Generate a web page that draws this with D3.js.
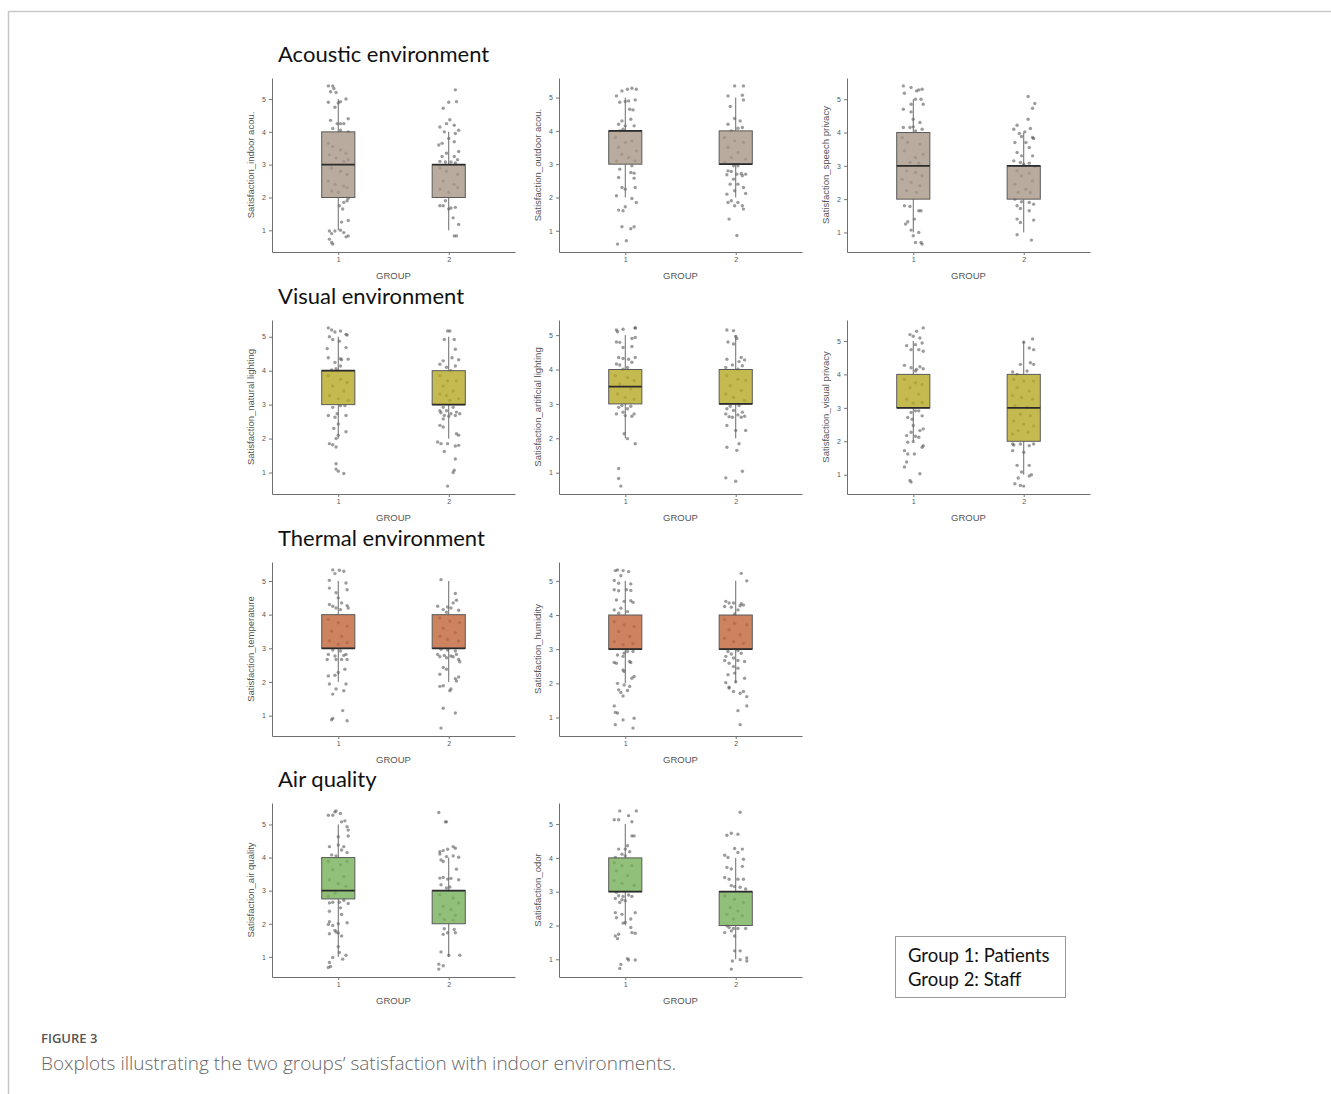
<!DOCTYPE html>
<html>
<head>
<meta charset="utf-8">
<script src="https://cdn.jsdelivr.net/npm/d3@7"></script>
<style>
  body { margin: 0; background: #fff; }
  svg { display: block; }
</style>
</head>
<body>
<svg id="chart" width="1331" height="1094"></svg>
<script>
// groups on the x axis
const groups = ['1', '2'];
const sectionTitles = ['Acoustic environment', 'Visual environment', 'Thermal environment', 'Air quality'];
const yTicks = [1, 2, 3, 4, 5];
const legendLines = ['Group 1: Patients', 'Group 2: Staff'];

// box stats per variable: [group1, group2], each [lowWhisker, q1, median, q3, highWhisker]
const statsIndoorAcou = [[1, 2, 3, 4, 5], [1, 2, 3, 3, 4]];
const statsOutdoorAcou = [[2, 3, 4, 4, 5], [2, 3, 3, 4, 5]];
const statsSpeechPrivacy = [[1, 2, 3, 4, 5], [1, 2, 3, 3, 4]];
const statsNaturalLighting = [[2, 3, 4, 4, 5], [2, 3, 3, 4, 5]];
const statsArtificialLighting = [[2, 3, 3.5, 4, 5], [2, 3, 3, 4, 5]];
const statsVisualPrivacy = [[2, 3, 3, 4, 5], [1, 2, 3, 4, 5]];
const statsTemperature = [[2, 3, 3, 4, 5], [2, 3, 3, 4, 5]];
const statsHumidity = [[2, 3, 3, 4, 5], [2, 3, 3, 4, 5]];
const statsAirQuality = [[1, 2.75, 3, 4, 5], [1, 2, 3, 3, 4]];
const statsOdor = [[2, 3, 3, 4, 5], [1, 2, 3, 3, 4]];

// jittered responses: [x jitter (group units), value]
const indoorAcou1 = [[-.09,5.4],[-.05,5.4],[-.04,5.32],[-.07,5.22],[-.02,5.2],[-.09,4.9],[.02,4.92],[.07,5.0],[-.03,4.75],[0,4.88],[-.07,4.35],[.09,4.4],[.02,4.25],[-.01,4.25],[.05,4.25],[-.05,4.1],[.02,4.05],[.09,4.0],[-.09,3.65],[-.05,3.55],[.02,3.45],[.07,3.35],[-.08,3.3],[-.02,3.2],[.05,3.1],[.09,3.15],[-.06,2.9],[.02,2.8],[.08,2.7],[-.09,2.5],[-.03,2.4],[.05,2.35],[-.06,2.2],[0,2.15],[.08,2.3],[.08,1.9],[.05,1.85],[.01,1.75],[.04,1.65],[.09,1.98],[.03,1.25],[.09,1.3],[-.08,.98],[-.06,.9],[-.03,.98],[.02,1.0],[.05,.93],[.09,.83],[-.08,.73],[-.06,.63],[-.05,.58],[.07,.8]];
const indoorAcou2 = [[.06,5.28],[0,4.9],[.07,4.92],[-.05,4.72],[.01,4.37],[-.02,4.25],[.05,4.2],[-.08,4.15],[.09,4.05],[-.04,4.0],[.06,3.95],[0,3.8],[-.06,3.65],[.05,3.7],[-.09,3.6],[.09,3.4],[-.02,3.35],[-.06,3.25],[.05,3.25],[.08,3.15],[-.08,3.1],[.02,3.08],[-.03,3.08],[.06,3.05],[-.08,2.9],[-.02,2.8],[.08,2.7],[-.05,2.5],[.05,2.4],[-.08,2.25],[0,2.15],[.08,2.3],[-.03,1.9],[-.08,1.75],[-.05,1.75],[.02,1.68],[.06,1.7],[0,1.65],[.04,1.38],[.09,1.18],[.05,.83],[.07,.83]];
const outdoorAcou1 = [[-.08,5.05],[-.03,5.2],[.02,5.25],[.06,5.28],[.1,5.25],[-.05,4.86],[0,4.88],[.03,4.9],[.09,4.93],[.04,4.65],[.07,4.63],[-.03,4.3],[.05,4.35],[-.06,4.2],[0,4.15],[.08,4.15],[-.02,4.05],[-.05,4.0],[-.09,3.8],[0,3.65],[.06,3.7],[-.06,3.5],[.1,3.4],[-.03,3.3],[.03,3.2],[-.08,3.1],[.09,3.1],[.06,2.95],[-.05,2.85],[.05,2.75],[.08,2.73],[-.06,2.6],[.08,2.58],[-.03,2.3],[.09,2.3],[0,2.25],[-.08,2.05],[.06,1.97],[.1,1.85],[0,1.72],[-.06,1.62],[-.02,1.6],[-.03,1.12],[.05,1.06],[.08,1.12],[.01,.7],[-.07,.6]];
const outdoorAcou2 = [[-.01,5.35],[.07,5.35],[-.07,5.05],[.06,5.07],[.07,4.93],[-.05,4.73],[-.01,4.37],[.04,4.3],[-.07,4.2],[.02,4.08],[.06,4.1],[-.04,4.0],[-.1,3.8],[-.01,3.7],[.07,3.65],[-.07,3.5],[.02,3.35],[-.04,3.2],[.09,3.15],[-.1,3.05],[-.02,2.95],[.02,2.95],[-.07,2.8],[-.04,2.78],[.05,2.72],[.09,2.7],[-.08,2.68],[.01,2.7],[.06,2.65],[-.02,2.55],[.02,2.4],[-.05,2.4],[.07,2.3],[-.01,2.2],[-.08,2.1],[.09,2.12],[-.04,1.9],[.02,1.85],[-.07,1.85],[.06,1.75],[-.01,1.75],[.07,1.65],[-.06,1.35],[.01,.86]];
const speechPrivacy1 = [[-.09,5.4],[-.02,5.35],[.03,5.25],[.05,5.28],[.08,5.3],[-.08,5.18],[.02,5.0],[.07,5.0],[-.09,4.7],[-.02,4.85],[.09,4.85],[-.02,4.62],[0,4.4],[.06,4.3],[-.09,4.15],[-.03,4.15],[0,4.17],[.08,4.1],[.02,4.05],[-.1,3.85],[-.05,3.7],[.06,3.65],[-.08,3.45],[.09,3.35],[.02,3.25],[-.03,3.1],[.05,3.08],[-.06,2.85],[.02,2.8],[.08,2.7],[-.1,2.6],[-.02,2.5],[.06,2.4],[-.06,2.25],[.03,2.2],[-.08,1.8],[-.03,1.78],[.05,1.65],[.07,1.65],[.01,1.4],[-.05,1.32],[-.07,1.25],[-.02,1.07],[.05,1.0],[0,.9],[.02,.7],[.07,.7],[.08,.65]];
const speechPrivacy2 = [[.04,5.08],[.1,4.87],[.08,4.73],[.04,4.4],[-.06,4.22],[-.09,4.1],[.06,4.12],[.01,4.02],[-.04,3.97],[.08,3.85],[-.02,3.88],[.09,3.82],[-.08,3.7],[.02,3.7],[.05,3.55],[-.06,3.4],[-.02,3.3],[.08,3.3],[-.09,3.15],[-.03,3.1],[.05,3.08],[0,3.05],[.1,2.98],[-.06,2.85],[.05,2.78],[-.02,2.7],[.08,2.55],[-.08,2.45],[.02,2.3],[-.05,2.2],[.06,2.2],[-.08,2.0],[-.02,1.92],[.05,1.9],[-.06,1.8],[-.03,1.72],[.09,1.85],[.05,1.65],[-.06,1.4],[-.03,1.3],[.09,1.37],[-.06,.93],[.07,.77]];
const naturalLighting1 = [[-.09,5.26],[-.06,5.2],[.02,5.17],[-.03,5.14],[.07,5.07],[.08,5.05],[-.08,5.0],[-.05,4.92],[.01,4.87],[-.1,4.65],[.07,4.68],[-.09,4.38],[.02,4.35],[.03,4.32],[.09,4.34],[-.03,4.24],[.02,4.14],[-.02,4.06],[-.06,4.02],[-.09,3.85],[.02,3.75],[.08,3.65],[-.05,3.55],[.05,3.4],[-.08,3.26],[0,3.17],[.09,3.12],[.02,2.97],[.06,2.97],[-.05,2.92],[-.01,2.73],[-.03,2.63],[.07,2.68],[-.09,2.68],[0,2.43],[-.04,2.3],[.07,2.2],[0,2.1],[-.02,2.0],[-.08,1.85],[-.05,1.82],[-.02,1.75],[-.02,1.26],[-.02,1.1],[0,1.04],[.05,.97]];
const naturalLighting2 = [[-.01,5.17],[.01,5.17],[-.04,4.92],[.05,4.92],[.06,4.63],[-.05,4.29],[.09,4.32],[.03,4.38],[-.08,4.19],[-.02,4.1],[.06,4.14],[.02,4.0],[-.08,3.85],[-.01,3.7],[.07,3.7],[-.05,3.55],[.04,3.4],[-.08,3.31],[-.02,3.26],[.09,3.17],[.01,3.12],[-.05,2.92],[.04,2.92],[-.08,2.82],[-.02,2.82],[.07,2.78],[-.07,2.76],[.02,2.73],[-.04,2.68],[0,2.66],[.06,2.68],[.1,2.73],[-.05,2.58],[-.08,2.39],[-.05,2.34],[.09,2.1],[.07,2.14],[-.1,1.9],[-.07,1.85],[-.01,1.85],[.09,1.8],[.06,1.78],[-.04,1.62],[.06,1.4],[.05,1.07],[.04,1.0],[-.01,.6]];
const artificialLighting1 = [[-.08,5.15],[-.07,5.1],[-.02,5.17],[.09,5.21],[.09,5.21],[.06,4.9],[.09,4.93],[-.08,4.8],[-.05,4.79],[-.02,4.64],[.06,4.67],[-.06,4.35],[-.02,4.32],[.09,4.35],[.03,4.3],[-.08,4.16],[-.05,4.13],[.06,4.21],[.02,4.06],[-.02,4.01],[-.09,3.82],[.02,3.77],[.08,3.68],[-.05,3.58],[.05,3.43],[-.07,3.29],[0,3.19],[.08,3.14],[-.03,2.95],[.05,2.93],[-.06,2.9],[.02,2.86],[-.08,2.71],[0,2.66],[.06,2.64],[-.02,2.76],[.08,2.71],[-.01,2.13],[.02,1.99],[.09,1.84],[-.06,1.12],[-.06,.83],[-.04,.61]];
const artificialLighting2 = [[-.08,5.15],[-.02,5.13],[0,4.96],[.01,4.9],[-.07,4.8],[-.02,4.74],[-.08,4.3],[.05,4.35],[.08,4.28],[.03,4.23],[-.03,4.13],[.06,4.11],[-.09,4.06],[.02,4.01],[-.08,3.82],[.02,3.72],[.09,3.68],[-.05,3.53],[.05,3.39],[-.09,3.29],[-.02,3.19],[.08,3.1],[-.05,2.93],[.03,2.95],[-.08,2.86],[-.02,2.81],[.06,2.76],[-.09,2.71],[.02,2.68],[.08,2.64],[-.06,2.63],[-.03,2.61],[.05,2.61],[-.08,2.37],[0,2.23],[.09,2.23],[.03,1.84],[-.08,1.74],[.01,1.65],[.06,1.04],[-.09,.85],[0,.75]];
const visualPrivacy1 = [[.09,5.39],[.03,5.29],[-.03,5.19],[0,5.14],[.06,5.09],[-.06,4.86],[.02,4.89],[.08,4.94],[-.02,4.74],[.05,4.74],[.09,4.69],[-.08,4.27],[-.02,4.2],[.03,4.15],[.06,4.23],[.02,4.1],[.09,4.17],[-.08,3.85],[.02,3.75],[.08,3.7],[-.03,3.6],[.05,3.41],[-.06,3.26],[0,3.14],[.08,3.16],[.02,2.91],[.05,2.91],[-.02,2.86],[-.05,2.71],[-.01,2.66],[.08,2.76],[0,2.47],[.09,2.37],[.06,2.32],[-.02,2.27],[-.06,2.17],[.02,2.15],[.05,2.12],[-.05,1.97],[0,1.99],[.09,1.87],[.08,1.82],[-.08,1.72],[-.05,1.62],[.01,1.62],[-.06,1.38],[-.08,1.23],[.06,1.03],[-.03,.83],[-.02,.78]];
const visualPrivacy2 = [[.08,5.06],[0,4.96],[.05,4.79],[.09,4.74],[-.03,4.3],[.06,4.35],[.09,4.3],[-.1,4.07],[.03,4.1],[-.06,4.0],[-.09,3.85],[0,3.8],[.09,3.8],[-.06,3.6],[.05,3.5],[-.1,3.36],[-.02,3.31],[.08,3.26],[-.08,3.06],[.03,3.01],[-.03,2.81],[.06,2.76],[-.09,2.61],[0,2.51],[.09,2.46],[-.05,2.32],[-.1,2.22],[.04,2.27],[-.1,1.92],[-.09,1.89],[-.03,1.92],[.05,1.87],[.09,1.92],[-.1,1.72],[0,1.67],[-.06,1.28],[.05,1.28],[-.02,1.08],[-.05,.9],[.05,.96],[.07,1.0],[-.08,.73],[-.03,.68],[0,.66]];
const temperature1 = [[-.05,5.33],[.01,5.32],[.05,5.29],[-.03,5.22],[-.08,5.02],[.07,4.94],[-.08,4.79],[-.02,4.65],[.08,4.74],[0,4.5],[-.08,4.3],[.03,4.35],[-.05,4.25],[.08,4.27],[-.02,4.2],[.09,4.2],[.02,4.15],[-.09,3.86],[0,3.76],[.08,3.66],[-.06,3.51],[.03,3.36],[-.08,3.22],[0,3.12],[.08,3.17],[-.05,2.95],[.02,2.92],[-.09,2.82],[-.03,2.77],[.05,2.79],[.07,2.82],[-.1,2.67],[-.02,2.67],[.03,2.67],[.08,2.67],[.06,2.38],[-.09,2.18],[-.03,2.2],[0,2.28],[-.08,1.94],[.07,1.94],[-.02,1.79],[.05,1.74],[-.05,1.64],[.04,1.15],[-.06,.88],[-.05,.92],[.08,.85]];
const temperature2 = [[-.07,5.04],[.06,4.63],[.04,4.35],[.07,4.43],[-.1,4.25],[-.01,4.23],[.02,4.2],[-.05,4.15],[.09,4.13],[-.02,4.07],[-.08,3.9],[.01,3.81],[.1,3.76],[-.05,3.6],[.06,3.46],[-.08,3.36],[-.01,3.27],[.09,3.22],[-.07,2.97],[-.01,2.95],[.06,2.92],[-.1,2.82],[-.04,2.79],[.02,2.77],[.07,2.82],[-.08,2.75],[-.02,2.72],[.04,2.75],[.09,2.67],[.1,2.6],[-.05,2.43],[-.02,2.38],[-.08,2.23],[.09,2.15],[.06,2.1],[.07,2.03],[-.05,1.89],[-.08,1.87],[.02,1.79],[.01,1.74],[-.05,1.22],[.06,1.08],[-.07,.63]];
const humidity1 = [[-.09,5.3],[-.07,5.32],[-.02,5.3],[.03,5.27],[-.04,5.15],[-.1,5.01],[-.06,4.93],[.05,4.91],[-.1,4.74],[-.06,4.71],[.01,4.74],[.05,4.72],[-.08,4.44],[-.01,4.4],[.05,4.42],[.07,4.37],[-.04,4.2],[-.1,4.15],[.02,4.1],[-.06,4.05],[-.1,3.81],[-.01,3.71],[.08,3.66],[-.06,3.52],[.04,3.37],[-.1,3.22],[-.02,3.13],[.07,3.16],[.02,2.93],[.07,2.93],[-.01,2.88],[-.07,2.83],[-.02,2.79],[-.1,2.61],[-.08,2.59],[.04,2.64],[.05,2.61],[-.02,2.39],[-.01,2.35],[.08,2.2],[.06,2.15],[-.07,2.0],[-.01,1.95],[.04,1.91],[-.06,1.81],[-.04,1.73],[.02,1.79],[-.02,1.63],[-.1,1.34],[-.09,1.15],[-.07,1.13],[-.02,.93],[-.09,.79],[.08,.98],[.07,.69]];
const humidity2 = [[.05,5.22],[.1,5.0],[-.09,4.4],[-.06,4.35],[-.02,4.35],[.05,4.33],[-.1,4.25],[.04,4.27],[.07,4.29],[-.04,4.23],[.02,4.15],[-.01,4.03],[-.1,3.86],[-.01,3.76],[.1,3.71],[-.06,3.57],[.04,3.42],[-.1,3.32],[-.02,3.22],[.07,3.17],[-.07,2.93],[.02,2.96],[-.04,2.86],[.05,2.88],[-.09,2.79],[-.02,2.74],[-.1,2.67],[.02,2.67],[.08,2.64],[-.06,2.59],[-.02,2.49],[.02,2.44],[-.01,2.3],[-.07,2.25],[.08,2.15],[0,2.05],[-.09,2.02],[-.06,1.89],[-.06,1.86],[-.02,1.76],[.04,1.71],[.07,1.76],[.1,1.61],[.1,1.34],[.02,1.2],[.04,.79]];
const airQuality1 = [[-.09,5.28],[-.03,5.38],[.02,5.33],[-.02,5.41],[-.05,5.28],[.03,5.08],[.06,5.11],[.08,4.93],[.09,4.83],[0,4.63],[.09,4.65],[-.08,4.33],[0,4.38],[.05,4.33],[.03,4.23],[.08,4.15],[-.06,4.08],[-.02,4.05],[-.09,3.88],[.02,3.78],[.08,3.88],[-.05,3.63],[.05,3.43],[-.08,3.33],[0,3.21],[.07,3.13],[-.03,2.93],[-.09,2.83],[-.08,2.63],[-.05,2.65],[.01,2.65],[.05,2.71],[.09,2.61],[.02,2.48],[-.08,2.38],[.03,2.28],[-.09,1.98],[-.08,2.06],[0,2.0],[.08,2.03],[-.05,1.95],[-.03,1.8],[-.02,1.75],[0,1.72],[-.08,1.7],[.03,1.63],[0,1.31],[.01,1.13],[.07,1.05],[-.05,.98],[.04,.93],[-.08,.83],[-.09,.68],[-.07,.71]];
const airQuality2 = [[-.09,5.36],[-.03,5.08],[-.02,5.08],[-.08,4.18],[-.05,4.21],[-.01,4.25],[.04,4.33],[.06,4.28],[-.08,4.11],[-.02,4.03],[.04,4.05],[.09,4.01],[-.07,3.93],[-.05,3.88],[.07,3.65],[-.08,3.38],[-.05,3.4],[-.01,3.35],[.02,3.37],[.09,3.33],[-.07,3.18],[.01,3.11],[-.02,3.08],[-.08,2.88],[.04,2.78],[.09,2.63],[-.05,2.53],[.02,2.43],[-.08,2.28],[.06,2.25],[-.04,2.13],[.04,2.11],[-.04,1.85],[.05,1.83],[-.05,1.68],[-.01,1.73],[.06,1.73],[-.07,1.15],[0,1.05],[.1,1.05],[-.09,.78],[-.05,.73],[-.09,.63]];
const odor1 = [[-.05,5.39],[.1,5.39],[-.1,5.13],[-.06,5.13],[.03,5.25],[.06,5.07],[.06,4.65],[.08,4.65],[.02,4.36],[0,4.26],[.04,4.18],[-.06,4.26],[-.03,4.11],[0,4.06],[-.09,4.01],[-.1,3.86],[-.03,3.77],[.06,3.77],[-.08,3.62],[.02,3.47],[-.1,3.32],[-.03,3.25],[.08,3.19],[-.08,2.98],[-.06,2.88],[-.02,2.86],[.03,2.9],[-.09,2.8],[-.03,2.76],[0,2.73],[-.05,2.68],[.06,2.86],[-.09,2.38],[-.03,2.33],[.09,2.38],[-.08,2.23],[.05,2.19],[0,2.09],[-.02,2.07],[.05,1.94],[.06,1.79],[.09,1.77],[-.06,1.74],[-.09,1.69],[-.07,1.61],[.02,1.02],[.03,.98],[.09,.98],[-.04,.85],[-.05,.73]];
const odor2 = [[.04,5.35],[-.08,4.67],[-.04,4.73],[.02,4.7],[-.1,4.08],[-.07,4.01],[-.01,4.28],[.02,4.16],[.06,4.26],[.07,3.96],[-.08,3.72],[-.04,3.67],[.06,3.75],[-.1,3.42],[-.06,3.37],[.02,3.37],[.07,3.37],[-.04,3.18],[-.01,3.15],[.04,3.13],[.09,3.08],[-.1,2.88],[-.01,2.78],[.07,2.68],[-.05,2.53],[.02,2.43],[-.08,2.33],[.06,2.29],[-.02,2.19],[-.08,1.99],[-.06,1.94],[-.02,1.91],[.02,1.91],[.09,1.91],[-.1,1.79],[-.04,1.84],[-.01,1.69],[-.01,1.25],[.04,1.25],[-.03,.95],[.04,.99],[.1,1.04],[.1,.95],[-.04,.71]];

// panel list: section row, column, axis label, data, stats
const panels = [
  { row: 0, col: 0, label: 'Satisfaction_indoor acou.', pts: [indoorAcou1, indoorAcou2], stats: statsIndoorAcou },
  { row: 0, col: 1, label: 'Satisfaction_outdoor acou.', pts: [outdoorAcou1, outdoorAcou2], stats: statsOutdoorAcou },
  { row: 0, col: 2, label: 'Satisfaction_speech privacy', pts: [speechPrivacy1, speechPrivacy2], stats: statsSpeechPrivacy },
  { row: 1, col: 0, label: 'Satisfaction_natural lighting', pts: [naturalLighting1, naturalLighting2], stats: statsNaturalLighting },
  { row: 1, col: 1, label: 'Satisfaction_artificial lighting', pts: [artificialLighting1, artificialLighting2], stats: statsArtificialLighting },
  { row: 1, col: 2, label: 'Satisfaction_visual privacy', pts: [visualPrivacy1, visualPrivacy2], stats: statsVisualPrivacy },
  { row: 2, col: 0, label: 'Satisfaction_temperature', pts: [temperature1, temperature2], stats: statsTemperature },
  { row: 2, col: 1, label: 'Satisfaction_humidity', pts: [humidity1, humidity2], stats: statsHumidity },
  { row: 3, col: 0, label: 'Satisfaction_air quality', pts: [airQuality1, airQuality2], stats: statsAirQuality },
  { row: 3, col: 1, label: 'Satisfaction_odor', pts: [odor1, odor2], stats: statsOdor }
];

// layout
const colX = [272, 559, 847];
const rowTop = [78, 320, 562, 803];
const panelW = 243, panelH = 174;
const boxFill = ['#a89684', '#b5a923', '#c16438', '#74b057'];
const boxWidth = 0.3;

const svg = d3.select('#chart');

// page frame
svg.append('line').attr('x1', 8).attr('x2', 1331).attr('y1', 11.5).attr('y2', 11.5)
    .attr('stroke', '#c8c8c8').attr('stroke-width', 1.5);
svg.append('line').attr('x1', 8.5).attr('x2', 8.5).attr('y1', 11).attr('y2', 1094)
    .attr('stroke', '#c8c8c8').attr('stroke-width', 1.5);

// section titles
svg.selectAll('text.section')
    .data(sectionTitles)
    .join('text')
    .attr('class', 'section')
    .attr('x', 278)
    .attr('y', (d, i) => rowTop[i] - 16)
    .style('font-family', 'Lato, "Open Sans", sans-serif')
    .style('font-size', '22px')
    .attr('fill', '#111')
    .text(d => d);

panels.forEach(p => {
    const x0 = colX[p.col];
    const y1 = rowTop[p.row];
    const y0 = y1 + panelH;

    const allY = p.pts.flat().map(d => d[1]).concat(p.stats.flat());
    const [lo, hi] = d3.extent(allY);
    const pad = (hi - lo) * 0.05;

    const x = d3.scaleLinear().domain([0.4, 2.6]).range([x0, x0 + panelW]);
    const y = d3.scaleLinear().domain([lo - pad, hi + pad]).range([y0, y1]);

    const g = svg.append('g');

    // jittered points (under the box)
    p.pts.forEach((pts, gi) => {
        g.append('g')
            .selectAll('circle')
            .data(pts)
            .join('circle')
            .attr('cx', d => x(gi + 1 + d[0]))
            .attr('cy', d => y(d[1]))
            .attr('r', 1.7)
            .attr('fill', '#4a4a4a')
            .attr('fill-opacity', 0.55);
    });

    // boxes
    p.stats.forEach((s, gi) => {
        const cx = x(gi + 1);
        const bw = x(1 + boxWidth / 2) - x(1);
        g.append('line')
            .attr('x1', cx).attr('x2', cx)
            .attr('y1', y(s[0])).attr('y2', y(s[1]))
            .attr('stroke', '#6b6b6b').attr('stroke-width', 1);
        g.append('line')
            .attr('x1', cx).attr('x2', cx)
            .attr('y1', y(s[3])).attr('y2', y(s[4]))
            .attr('stroke', '#6b6b6b').attr('stroke-width', 1);
        g.append('rect')
            .attr('x', cx - bw).attr('width', bw * 2)
            .attr('y', y(s[3])).attr('height', y(s[1]) - y(s[3]))
            .attr('fill', boxFill[p.row]).attr('fill-opacity', 0.8)
            .attr('stroke', '#5a5a5a').attr('stroke-width', 1);
        g.append('line')
            .attr('x1', cx - bw).attr('x2', cx + bw)
            .attr('y1', y(s[2])).attr('y2', y(s[2]))
            .attr('stroke', '#2b2b2b').attr('stroke-width', 1.8);
    });

    // axes
    const xAxis = g.append('g')
        .attr('transform', `translate(0,${y0})`)
        .call(d3.axisBottom(x).tickValues([1, 2]).tickFormat(d => groups[d - 1]).tickSize(3).tickPadding(2).tickSizeOuter(0));
    const yAxis = g.append('g')
        .attr('transform', `translate(${x0},0)`)
        .call(d3.axisLeft(y).tickValues(yTicks).tickFormat(d3.format('d')).tickSize(3).tickPadding(3).tickSizeOuter(0));

    [xAxis, yAxis].forEach(a => {
        a.select('.domain').attr('stroke', '#6e6e6e');
        a.selectAll('.tick line').attr('stroke', '#777');
        a.selectAll('text')
            .attr('fill', '#555')
            .style('font-family', 'Arial, "Liberation Sans", sans-serif')
            .style('font-size', '7px');
    });

    // axis titles
    g.append('text')
        .attr('x', x0 + panelW / 2)
        .attr('y', y0 + 27)
        .attr('text-anchor', 'middle')
        .attr('fill', '#555')
        .style('font-family', 'Arial, "Liberation Sans", sans-serif')
        .style('font-size', '9.5px')
        .text('GROUP');

    g.append('text')
        .attr('transform', `translate(${x0 - 18},${(y0 + y1) / 2}) rotate(-90)`)
        .attr('text-anchor', 'middle')
        .attr('fill', '#555')
        .style('font-family', 'Arial, "Liberation Sans", sans-serif')
        .style('font-size', '9.5px')
        .text(p.label);
});

// legend box
const legend = svg.append('g');
legend.append('rect')
    .attr('x', 895.5).attr('y', 936.5).attr('width', 170).attr('height', 61)
    .attr('fill', '#fff').attr('stroke', '#999').attr('stroke-width', 1);
legend.selectAll('text')
    .data(legendLines)
    .join('text')
    .attr('x', 908)
    .attr('y', (d, i) => 962 + i * 24)
    .attr('fill', '#111')
    .style('font-family', 'Lato, "Open Sans", sans-serif')
    .style('font-size', '18.5px')
    .text(d => d);

// caption
svg.append('text')
    .attr('x', 41).attr('y', 1043)
    .attr('fill', '#555')
    .style('font-family', '"Open Sans", sans-serif')
    .style('font-size', '13px')
    .style('font-weight', 600)
    .text('FIGURE 3');
svg.append('text')
    .attr('x', 41).attr('y', 1070)
    .attr('fill', '#666')
    .style('font-family', '"Open Sans", sans-serif')
    .style('font-size', '19px')
    .style('font-weight', 300)
    .text('Boxplots illustrating the two groups\u2019 satisfaction with indoor environments.');
</script>
</body>
</html>
